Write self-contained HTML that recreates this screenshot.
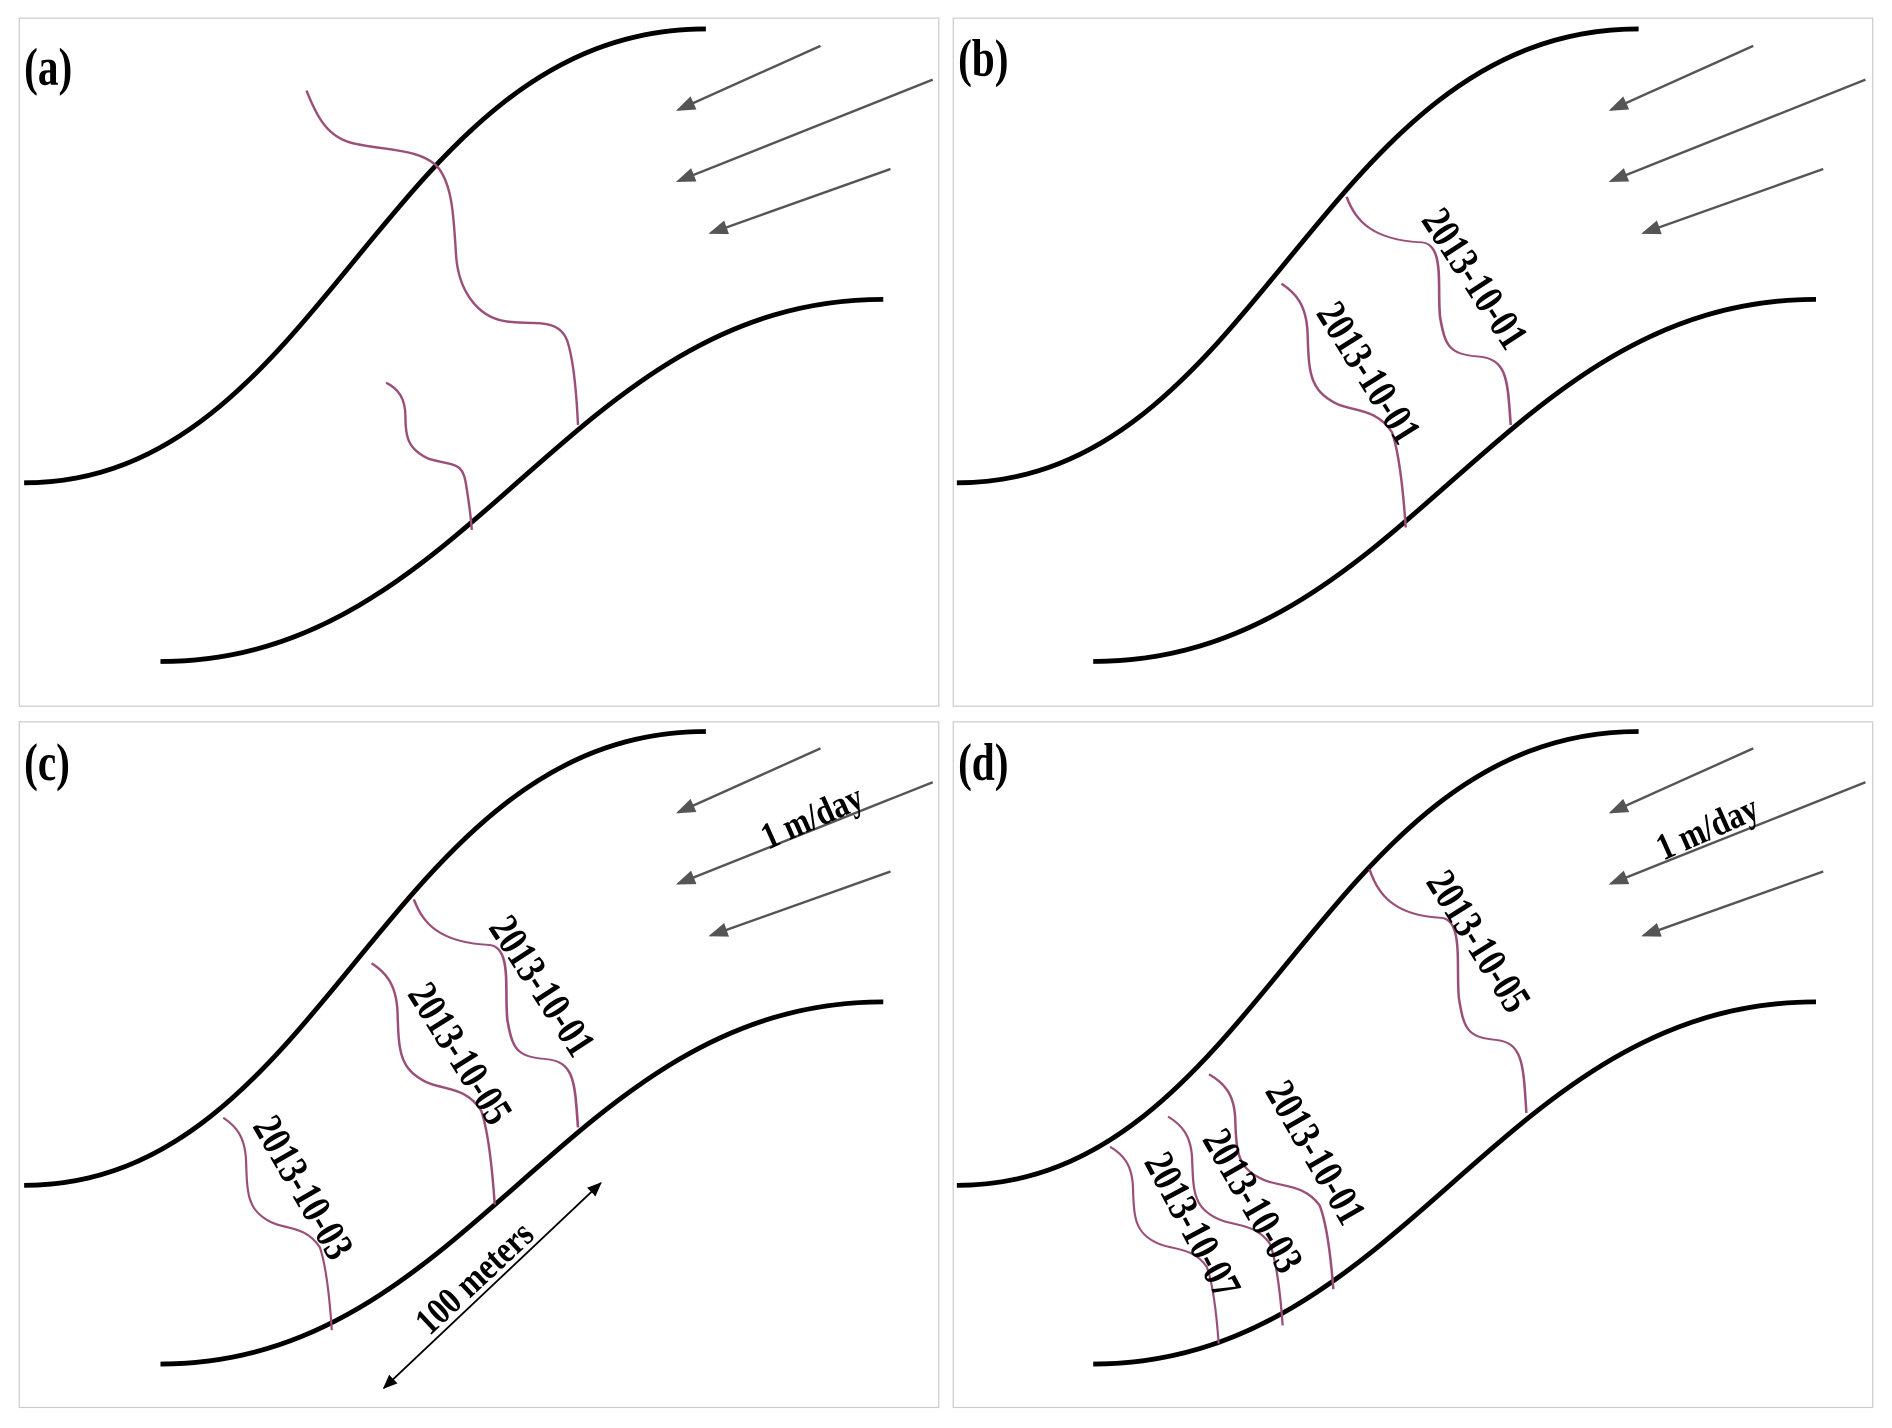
<!DOCTYPE html>
<html><head><meta charset="utf-8"><style>
html,body{margin:0;padding:0;background:#fff;}
svg{display:block;}
text{font-family:"Liberation Serif",serif;font-weight:bold;fill:#000;}
</style></head><body>
<svg width="1892" height="1428" viewBox="0 0 1568 1183" preserveAspectRatio="none" xmlns="http://www.w3.org/2000/svg">
<defs>
<marker id="ah" markerUnits="userSpaceOnUse" markerWidth="16" markerHeight="12" refX="14" refY="6" orient="auto">
<path d="M0,0 L16,6 L0,12 Z" fill="#555"/>
</marker>
<marker id="bh" markerUnits="userSpaceOnUse" markerWidth="12" markerHeight="10" refX="11" refY="5" orient="auto-start-reverse">
<path d="M0,0 L12,5 L0,10 Z" fill="#000"/>
</marker>
<g id="banks" fill="none" stroke="#000" stroke-width="4">
<path d="M20,400 C270,400 320,24 585,24"/>
<path d="M133,548 C390,548 470,248 732,248"/>
</g>
<g id="arrows" stroke="#555" stroke-width="2" marker-end="url(#ah)">
<line x1="680" y1="38" x2="562" y2="91"/>
<line x1="773" y1="66" x2="562" y2="150"/>
<line x1="738" y1="140" x2="589" y2="193"/>
</g>
<path id="w" d="M0,0 C5,20 15,38 46,40 C60,42 55,80 57,106 C60,130 62,138 80,140 C98,142 98,160 100,200"/>
<path id="w2" d="M0,0 C12,8 20,18 21,40 C22,70 22,85 40,96 C55,106 75,100 89,122 C95,140 98,170 100,200"/>
</defs>
<g fill="none" stroke="#ccc" stroke-width="1">
<rect x="16" y="15" width="762" height="570"/>
<rect x="790" y="15" width="762" height="570"/>
<rect x="16" y="598" width="762" height="568"/>
<rect x="790" y="598" width="762" height="568"/>
</g>
<use href="#banks"/><use href="#arrows"/>
<use href="#banks" transform="translate(773,0)"/><use href="#arrows" transform="translate(773,0)"/>
<use href="#banks" transform="translate(0,582)"/><use href="#arrows" transform="translate(0,582)"/>
<use href="#banks" transform="translate(773,582)"/><use href="#arrows" transform="translate(773,582)"/>

<g fill="none" stroke="#9a4f78" stroke-width="2">
<path d="M254,75 C262,95 270,112 290,118 C315,125 350,122 364,140 C375,155 376,180 378,212 C380,240 395,262 418,266 C440,270 462,262 470,282 C476,300 478,330 479,352"/>
<path d="M320,317 C330,322 336,330 336,345 C336,362 338,372 355,380 C375,386 383,382 386,400 C388,412 390,425 391,439"/>
</g>
<g fill="none" stroke="#9a4f78">
<use href="#w" transform="translate(1116,163) scale(1.36,0.945)" stroke-width="1.6"/>
<use href="#w2" transform="translate(1062,235) scale(1.03,1.01)" stroke-width="2"/>
<use href="#w" transform="translate(343,745) scale(1.36,0.945)" stroke-width="1.6"/>
<use href="#w2" transform="translate(308,798) scale(1.02,1.0)" stroke-width="2"/>
<use href="#w2" transform="translate(185,926) scale(0.9,0.88)" stroke-width="2"/>
<use href="#w" transform="translate(1135,720) scale(1.3,1.01)" stroke-width="1.6"/>
<use href="#w2" transform="translate(1002,890) scale(1.03,0.89)" stroke-width="2"/>
<use href="#w2" transform="translate(968,925) scale(0.95,0.865)" stroke-width="2"/>
<use href="#w2" transform="translate(920,950) scale(0.9,0.815)" stroke-width="2"/>
</g>

<g font-size="38">
<text transform="translate(20,70) scale(0.9,1.15)">(a)</text>
<text transform="translate(794,63) scale(0.9,1.15)">(b)</text>
<text transform="translate(20,646) scale(0.9,1.15)">(c)</text>
<text transform="translate(794,646) scale(0.9,1.15)">(d)</text>
</g>
<g font-size="28" text-anchor="middle" dominant-baseline="central">
<text transform="translate(1222,231) rotate(57) scale(1,1.25)">2013-10-01</text>
<text transform="translate(1134,309) rotate(58) scale(1,1.25)">2013-10-01</text>
<text transform="translate(449,817) rotate(57) scale(1,1.25)">2013-10-01</text>
<text transform="translate(381,873) rotate(58) scale(1,1.25)">2013-10-05</text>
<text transform="translate(251,984) rotate(60) scale(1,1.25)">2013-10-03</text>
<text transform="translate(1225,780) rotate(58) scale(1,1.25)">2013-10-05</text>
<text transform="translate(1090,955) rotate(60) scale(1,1.25)">2013-10-01</text>
<text transform="translate(1038,995) rotate(60) scale(1,1.25)">2013-10-03</text>
<text transform="translate(988,1015) rotate(62) scale(1,1.25)">2013-10-07</text>
</g>
<g font-size="26" text-anchor="middle">
<text transform="translate(677,686) rotate(-24) scale(1,1.2)">1 m/day</text>
<text transform="translate(1419,695) rotate(-24) scale(1,1.2)">1 m/day</text>
<text transform="translate(400,1066) rotate(-43) scale(1,1.2)">100 meters</text>
</g>
<line x1="318" y1="1150" x2="498" y2="980" stroke="#000" stroke-width="1.5" marker-start="url(#bh)" marker-end="url(#bh)"/>
</svg>
</body></html>
